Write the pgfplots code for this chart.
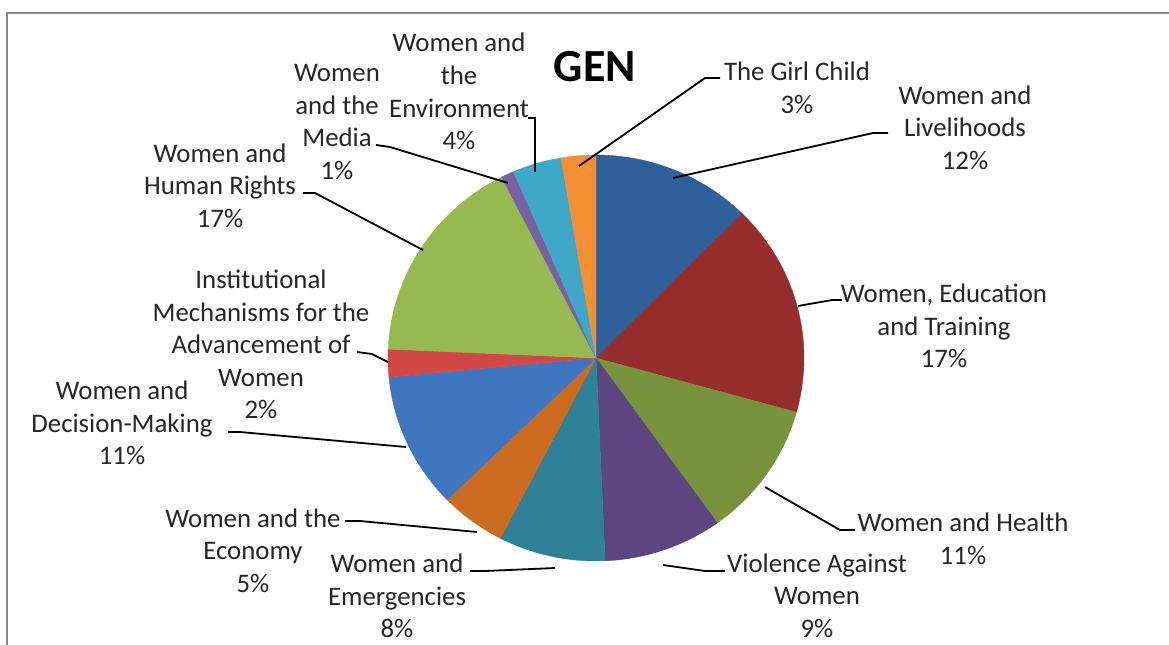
\documentclass[border=0pt]{standalone}
\usepackage{fontspec}
\setmainfont{Carlito}
\usepackage{pgfplots}
\usepackage{pgfplotstable}
\pgfplotsset{compat=1.18}

% slice shares in percent, clockwise from 12 o'clock
\pgfplotstableread{
label pct
Livelihoods 12.4
Education 16.9
Health 10.8
Violence 9.2
Emergencies 8.3
Economy 5.1
DecisionMaking 10.8
Institutional 2.2
HumanRights 16.8
Media 1.0
Environment 3.8
GirlChild 2.7
}\gendata

\definecolor{pc0}{RGB}{46,96,153}
\definecolor{pc1}{RGB}{150,46,44}
\definecolor{pc2}{RGB}{119,147,60}
\definecolor{pc3}{RGB}{92,69,128}
\definecolor{pc4}{RGB}{46,129,153}
\definecolor{pc5}{RGB}{204,108,32}
\definecolor{pc6}{RGB}{63,118,192}
\definecolor{pc7}{RGB}{208,72,69}
\definecolor{pc8}{RGB}{150,186,80}
\definecolor{pc9}{RGB}{123,95,165}
\definecolor{pc10}{RGB}{63,168,200}
\definecolor{pc11}{RGB}{243,143,51}
\definecolor{framegray}{RGB}{136,136,136}

\tikzset{lbl/.style={font=\fontsize{13.4}{16.3}\selectfont, align=center, inner sep=0pt, text=black!85}}

\begin{document}
\begin{tikzpicture}
\begin{axis}[
    name=ax,
    x=0.5pt, y=0.5pt,
    xmin=0, xmax=1169, ymin=0, ymax=644,
    y dir=reverse,
    hide axis,
    clip=false,
]
\xdef\cumsum{0}
\pgfplotsinvokeforeach{0,...,11}{
  \pgfplotstablegetelem{#1}{pct}\of\gendata
  \pgfmathsetmacro\wa{\cumsum*3.6}
  \pgfmathsetmacro\tmp{\cumsum+\pgfplotsretval}
  \xdef\cumsum{\tmp}
  \pgfmathsetmacro\wb{\cumsum*3.6}
  \addplot[fill=pc#1, draw=pc#1, line width=0.2pt, domain=\wa:\wb, samples=40, variable=\t]
    ({596+208*sin(\t)}, {358-203*cos(\t)}) -- (596,358) -- cycle;
}

% leader lines
\begin{scope}[line width=0.9pt, black]
\draw (579,166) -- (705,78) -- (720,78);
\draw (673,178) -- (873,133) -- (888,133);
\draw (798,306) -- (832,300) -- (842,300);
\draw (765,487) -- (840,530) -- (855,530);
\draw (663,565) -- (705,571) -- (725,571);
\draw (555,568) -- (485,571) -- (470,571);
\draw (477,532) -- (360,521) -- (345,521);
\draw (406,447) -- (240,432) -- (228,432);
\draw (388,362) -- (372,354) -- (357,352);
\draw (423,250) -- (315,193) -- (303,193);
\draw (508,183) -- (390,147) -- (376,145);
\draw (535,172) -- (535,118) -- (528,118);
\end{scope}

% labels
\node[lbl] at (797,88) {The Girl Child\\3\%};
\node[lbl] at (965,127.5) {Women and\\Livelihoods\\12\%};
\node[lbl] at (944,326) {Women, Education\\and Training\\17\%};
\node[lbl] at (963,538.5) {Women and Health\\11\%};
\node[lbl] at (817,595.5) {Violence Against\\Women\\9\%};
\node[lbl] at (397,596) {Women and\\Emergencies\\8\%};
\node[lbl] at (253,550.5) {Women and the\\Economy\\5\%};
\node[lbl] at (122,423) {Women and\\Decision-Making\\11\%};
\node[lbl] at (261,344.5) {Institutional\\Mechanisms for the\\Advancement of\\Women\\2\%};
\node[lbl] at (220,185.5) {Women and\\Human Rights\\17\%};
\node[lbl] at (337,122) {Women\\and the\\Media\\1\%};
\node[lbl] at (459,91.5) {Women and\\the\\Environment\\4\%};

\node[font=\fontsize{23}{28}\selectfont\bfseries, inner sep=0pt] at (595,67) {GEN};

\draw[framegray, line width=1pt] (7,13) rectangle (1190,670);
\end{axis}
\pgfresetboundingbox
\useasboundingbox (ax.south west) rectangle (ax.north east);
\end{tikzpicture}
\end{document}
